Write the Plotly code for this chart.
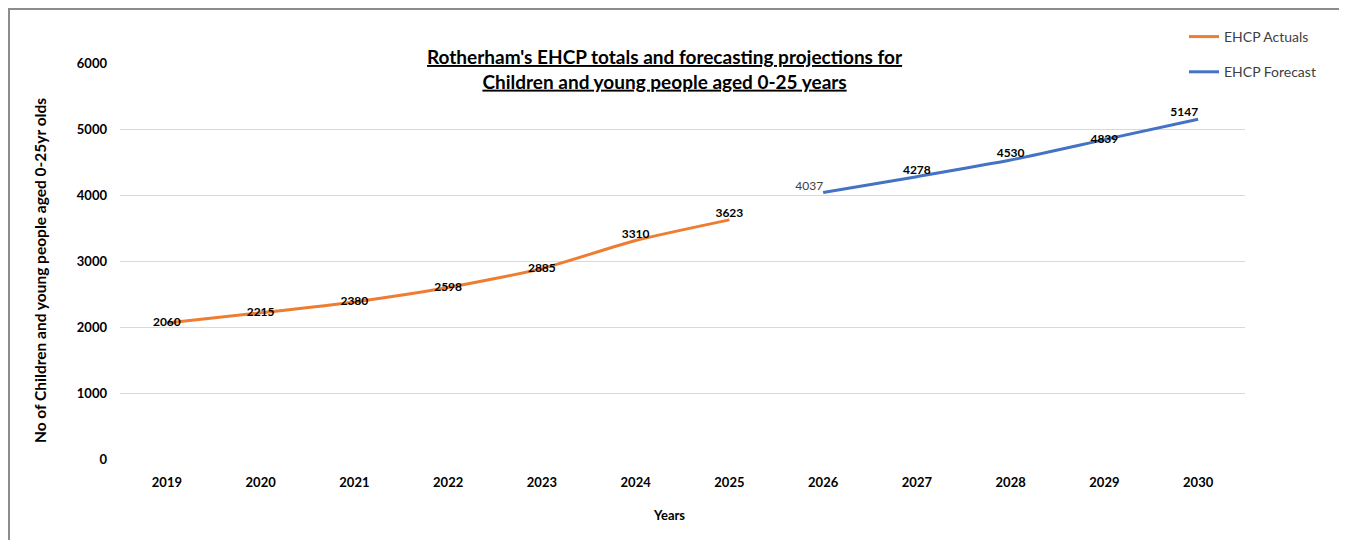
import plotly.graph_objects as go

actual_years = ["2019", "2020", "2021", "2022", "2023", "2024", "2025"]
actual_values = [2060, 2215, 2380, 2598, 2885, 3310, 3623]
forecast_years = ["2026", "2027", "2028", "2029", "2030"]
forecast_values = [4037, 4278, 4530, 4839, 5147]
all_years = actual_years + forecast_years

FONT = "Lato, Open Sans, sans-serif"
ORANGE = "#ED7D31"
BLUE = "#4472C4"

OFF = 8  # page body margin
W, H = 1347 - OFF, 540 - OFF
L, R, T, B = 120 - OFF, 102, 63 - OFF, 81
pw, ph = W - L - R, H - T - B

def px_x(p):
    return (p - OFF - L) / pw

def px_y(p):
    return (H + OFF - B - p) / ph

fig = go.Figure()
fig.add_trace(go.Scatter(
    x=actual_years, y=actual_values, name="EHCP Actuals", legendgroup="a",
    mode="lines+text", line=dict(color=ORANGE, width=3, shape="spline", smoothing=0.6),
    text=[f"<b>{v}</b>" for v in actual_values],
    textposition=["middle center"] * 5 + ["top center", "top center"],
    textfont=dict(family=FONT, size=12, color="#000000"),
    cliponaxis=False,
))
fig.add_trace(go.Scatter(
    x=forecast_years, y=forecast_values, name="EHCP Forecast", legendgroup="f",
    mode="lines+text", line=dict(color=BLUE, width=3, shape="spline", smoothing=0.6),
    text=[str(forecast_values[0])] + [f"<b>{v}</b>" for v in forecast_values[1:]],
    textposition=["top left", "top center", "top center", "middle center", "top left"],
    textfont=dict(family=FONT, size=12, color=["#404040"] + ["#000000"] * 4),
    cliponaxis=False,
))

fig.update_layout(
    width=W, height=H,
    margin=dict(l=L, r=R, t=T, b=B),
    paper_bgcolor="white", plot_bgcolor="white",
    font=dict(family=FONT, size=12, color="#000000"),
    showlegend=True,
    legend=dict(x=px_x(1184), y=px_y(21), xanchor="left", yanchor="top",
                font=dict(family=FONT, size=14, color="#404040"),
                tracegroupgap=14, bgcolor="rgba(0,0,0,0)", itemwidth=30),
    xaxis=dict(type="category", categoryarray=all_years, categoryorder="array",
               range=[-0.5, 11.5], showgrid=False, zeroline=False, showline=False,
               ticks="", ticklabelstandoff=14,
               tickfont=dict(family=FONT, size=13, color="#000000", weight="bold")),
    yaxis=dict(range=[0, 6000], tickvals=[0, 1000, 2000, 3000, 4000, 5000, 6000],
               showgrid=True, gridcolor="#D9D9D9", gridwidth=1, zeroline=False,
               showline=False, ticks="", ticklabelstandoff=12,
               tickfont=dict(family=FONT, size=13, color="#000000", weight="bold")),
    annotations=[
        dict(text="<b><u>Rotherham's EHCP totals and forecasting projections for</u></b><br>"
                  "<b><u>Children and young people aged 0-25 years</u></b>",
             x=px_x(665), y=px_y(69), xref="paper", yref="paper",
             xanchor="center", yanchor="middle", showarrow=False,
             font=dict(family=FONT, size=19, color="#000000")),
        dict(text="<b>No of Children and young people aged 0-25yr olds</b>",
             x=px_x(40), y=px_y(271), xref="paper", yref="paper", textangle=-90,
             xanchor="center", yanchor="middle", showarrow=False,
             font=dict(family=FONT, size=15.5, color="#000000")),
        dict(text="<b>Years</b>",
             x=px_x(669), y=px_y(515), xref="paper", yref="paper",
             xanchor="center", yanchor="middle", showarrow=False,
             font=dict(family=FONT, size=13, color="#000000")),
    ],
    shapes=[dict(type="rect", xref="paper", yref="paper",
                 x0=px_x(9), x1=px_x(1341), y0=px_y(560), y1=px_y(9),
                 line=dict(color="#8C8C8C", width=2), fillcolor="rgba(0,0,0,0)", layer="below")],
)

fig.write_html("out.html")
